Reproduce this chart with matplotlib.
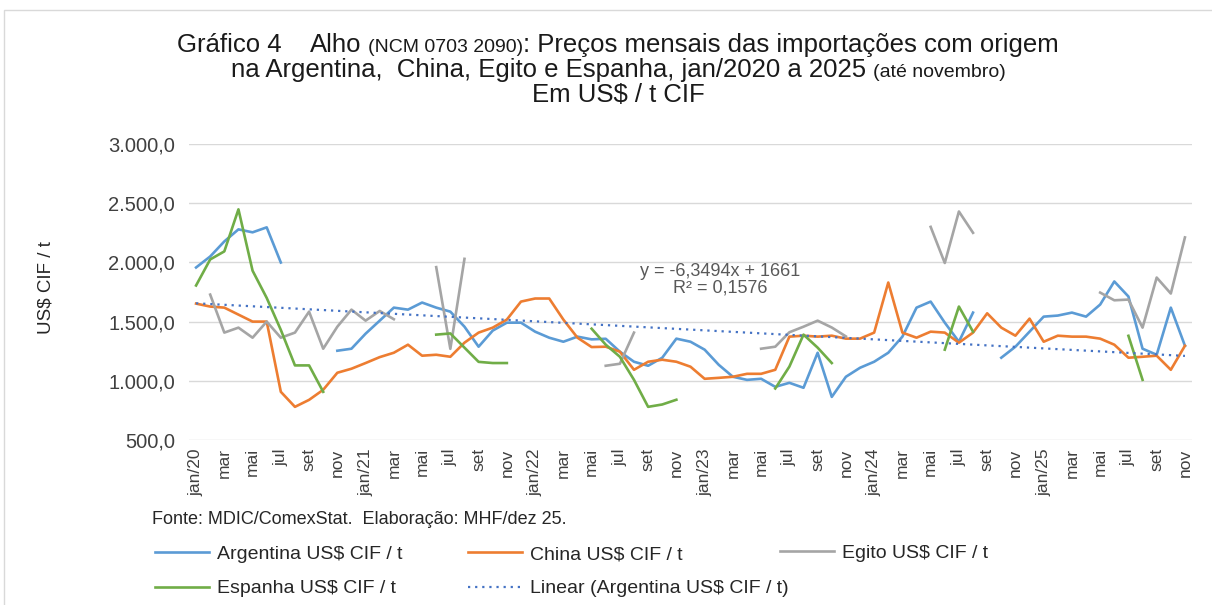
import numpy as np
import matplotlib
matplotlib.use("Agg")
import matplotlib.pyplot as plt
from matplotlib.patches import Rectangle

nan = np.nan

# monthly categories jan/2020 .. nov/2025
month_names = ["jan", "fev", "mar", "abr", "mai", "jun",
               "jul", "ago", "set", "out", "nov", "dez"]
months = [month_names[i % 12] if i % 12 else "jan/%d" % (20 + i // 12) for i in range(71)]

# US$ / t CIF (nan = no imports that month)
argentina = [1957, 2050, 2177, 2279, 2254, 2296, 1999, nan, nan, nan,
             1254, 1271, 1398, 1508, 1618, 1601, 1661, 1618, 1584, 1457,
             1288, 1424, 1491, 1491, 1415, 1364, 1330, 1373, 1350, 1355,
             1246, 1161, 1127, 1195, 1356, 1330, 1263, 1135, 1034, 1008,
             1017, 949, 983, 941, 1237, 864, 1034, 1110, 1161, 1237,
             1373, 1618, 1669, 1491, 1330, 1576, nan, 1195, 1288, 1415,
             1542, 1551, 1576, 1542, 1644, 1839, 1712, 1271, 1220, 1618,
             1296]
china = [1652, 1627, 1618, 1559, 1500, 1500, 907, 780, 839, 924,
         1068, 1102, 1150, 1200, 1237, 1305, 1212, 1220, 1203, 1322,
         1407, 1449, 1517, 1669, 1695, 1695, 1517, 1364, 1285, 1288,
         1246, 1093, 1161, 1178, 1161, 1119, 1017, 1025, 1034, 1059,
         1059, 1093, 1373, 1381, 1373, 1381, 1356, 1356, 1407, 1830,
         1407, 1364, 1415, 1407, 1322, 1407, 1570, 1449, 1381, 1525,
         1330, 1381, 1373, 1373, 1356, 1305, 1195, 1203, 1212, 1093,
         1296]
egito = [nan, 1728, 1407, 1449, 1364, 1500, 1364, 1407, 1584, 1271,
         1457, 1601, 1508, 1590, 1520, nan, nan, 1960, 1270, 2030,
         nan, nan, nan, nan, nan, nan, nan, nan, nan, 1127,
         1144, 1407, nan, nan, nan, nan, nan, nan, nan, nan,
         1271, 1288, 1410, 1457, 1508, 1450, 1375, nan, nan, nan,
         nan, nan, 2300, 1995, 2430, 2250, nan, nan, nan, nan,
         nan, nan, nan, nan, 1745, 1680, 1686, 1449, 1872, 1737,
         2211]
espanha = [1805, 2025, 2093, 2448, 1930, 1700, 1430, 1130, 1130, 907,
           nan, nan, nan, nan, nan, nan, nan, 1390, 1400, 1280,
           1160, 1150, 1150, nan, nan, nan, nan, nan, 1440, 1305,
           1203, 1008, 780, 800, 840, nan, nan, nan, nan, nan,
           nan, 935, 1120, 1390, 1280, 1150, nan, nan, nan, nan,
           nan, nan, nan, 1263, 1627, 1415, nan, nan, nan, nan,
           nan, nan, nan, nan, nan, nan, 1380, 1008, nan, nan,
           nan]

# Excel linear trend on Argentina (x = 1..71)
trend_slope = -6.3494
trend_intercept = 1661
trend_r2 = 0.1576

W, H = 1212, 605
fig = plt.figure(figsize=(W / 100, H / 100), dpi=100)
plt.rcParams['font.family'] = ['Liberation Sans', 'DejaVu Sans']

# chart area border
fig.add_artist(Rectangle((4 / W, -0.1), 1.1, 1.1 - 10 / H, transform=fig.transFigure,
                         fill=False, edgecolor='#d9d9d9', linewidth=1))

ax = fig.add_axes([189 / W, 1 - 440 / H, (1192 - 189) / W, (440 - 144) / H])

x = np.arange(len(months))
ax.plot(x, argentina, color='#5B9BD5', lw=1.9, label='Argentina US$ CIF / t')
ax.plot(x, china, color='#ED7D31', lw=1.9, label='China US$ CIF / t')
ax.plot(x, egito, color='#A5A5A5', lw=1.9, label='Egito US$ CIF / t')
ax.plot(x, espanha, color='#70AD47', lw=1.9, label='Espanha US$ CIF / t')
trend = trend_slope * (x + 1) + trend_intercept
ax.plot(x, trend, color='#4472C4', lw=1.6, linestyle=(0, (1, 2.2)),
        label='Linear (Argentina US$ CIF / t)')

ax.set_xlim(-0.5, len(months) - 0.5)
ax.set_ylim(500, 3000)
yt = np.arange(500, 3001, 500)
ax.set_yticks(yt)
ax.set_yticklabels(["{:,.1f}".format(v).replace(",", "X").replace(".", ",").replace("X", ".") for v in yt],
                   fontsize=14.5, color='#404040')
ax.set_xticks(x[::2])
ax.set_xticklabels(months[::2], rotation=90, fontsize=12.5, color='#404040')
ax.tick_params(length=0)
ax.tick_params(axis='x', pad=6)
ax.tick_params(axis='y', pad=10)
ax.grid(axis='y', color='#d9d9d9', lw=1)
ax.set_axisbelow(True)
for s in ax.spines.values():
    s.set_visible(False)

fig.text(46 / W, 1 - 288 / H, "US$ CIF / t", rotation=90, fontsize=13.5,
         color='#262626', ha='center', va='center')

fig.text(720 / W, 1 - 271 / H, "y = %sx + %d" % (str(trend_slope).replace(".", ","), trend_intercept),
         fontsize=13, color='#595959', ha='center', va='center')
fig.text(720 / W, 1 - 288 / H, "R² = %s" % str(trend_r2).replace(".", ","),
         fontsize=13, color='#595959', ha='center', va='center')

# title, with smaller inserts
renderer = fig.canvas.get_renderer()


def title_line(parts, baseline):
    texts = []
    for s, size, gap in parts:
        t = fig.text(0, 1 - baseline / H, s, fontsize=size, color='#1a1a1a', va='baseline')
        texts.append((t, gap))
    widths = [t.get_window_extent(renderer).width + g for t, g in texts]
    xpos = 618 - sum(widths) / 2
    for (t, g), w in zip(texts, widths):
        t.set_x(xpos / W)
        xpos += w


big, small = 18.5, 14
title_line([("Gráfico 4", big, 28), ("Alho", big, 7), ("(NCM 0703 2090)", small, 0),
            (": Preços mensais das importações com origem", big, 0)], 52)
title_line([("na Argentina,  China, Egito e Espanha, jan/2020 a 2025", big, 7),
            ("(até novembro)", small, 0)], 77)
title_line([("Em US$ / t CIF", big, 0)], 102)

fig.text(152 / W, 1 - 520 / H, "Fonte: MDIC/ComexStat.  Elaboração: MHF/dez 25.",
         fontsize=13, color='#262626', va='center')

h = ax.get_lines()
leg_kw = dict(frameon=False, fontsize=14, handlelength=2.8, handletextpad=0.4,
              borderpad=0, borderaxespad=0, labelspacing=0.85, labelcolor='#262626')
fig.legend([h[0], h[3]], [h[0].get_label(), h[3].get_label()], loc='center left',
           bbox_to_anchor=(155 / W, 1 - 571.5 / H), **leg_kw)
fig.legend([h[1], h[4]], [h[1].get_label(), h[4].get_label()], loc='center left',
           bbox_to_anchor=(468 / W, 1 - 571.5 / H), **leg_kw)
fig.legend([h[2]], [h[2].get_label()], loc='center left',
           bbox_to_anchor=(780 / W, 1 - 553 / H), **leg_kw)

fig.savefig("out.png", dpi=100)
